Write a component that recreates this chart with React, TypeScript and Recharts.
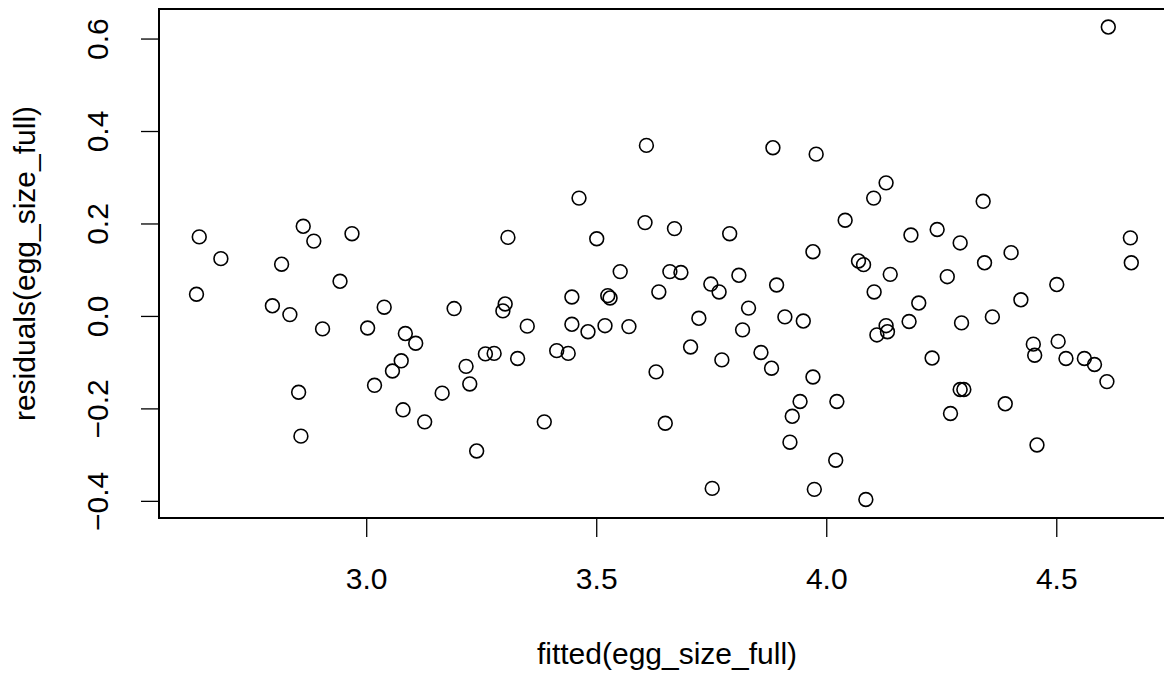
import React from 'react';
import { ScatterChart, Scatter, XAxis, YAxis, ReferenceArea } from 'recharts';

const fittedValues: number[] = [
  2.636, 2.683, 2.815, 2.862, 2.885, 2.968, 2.630, 2.942, 2.795, 2.833,
  2.904, 3.002, 3.038, 3.084, 3.1065, 3.075, 3.056, 3.017, 2.852, 3.079,
  2.857, 3.126, 3.190, 3.164, 3.216, 3.224, 3.239, 3.258, 3.277, 3.296,
  3.301, 3.307, 3.328, 3.349, 3.386, 3.413, 3.438, 3.446, 3.446, 3.4615,
  3.481, 3.500, 3.518, 3.524, 3.529, 3.551, 3.570, 3.605, 3.608, 3.629,
  3.635, 3.649, 3.659, 3.669, 3.683, 3.704, 3.722, 3.748, 3.751, 3.766,
  3.772, 3.789, 3.809, 3.817, 3.830, 3.857, 3.880, 3.883, 3.891, 3.909,
  3.920, 3.925, 3.942, 3.949, 3.970, 3.970, 3.973, 3.977, 4.0195, 4.022,
  4.040, 4.069, 4.080, 4.085, 4.102, 4.103, 4.109, 4.129, 4.129, 4.132,
  4.138, 4.179, 4.183, 4.200, 4.229, 4.240, 4.262, 4.269, 4.290, 4.290,
  4.293, 4.298, 4.340, 4.343, 4.360, 4.388, 4.4007, 4.422, 4.449, 4.452,
  4.457, 4.500, 4.503, 4.520, 4.560, 4.582, 4.609, 4.612, 4.660, 4.662,
];

const residualValues: number[] = [
  0.172, 0.125, 0.113, 0.195, 0.163, 0.179, 0.048, 0.076, 0.023, 0.004,
  -0.027, -0.025, 0.020, -0.037, -0.058, -0.096, -0.118, -0.149, -0.164, -0.202,
  -0.259, -0.228, 0.017, -0.166, -0.108, -0.146, -0.291, -0.081, -0.080, 0.012,
  0.027, 0.171, -0.091, -0.021, -0.228, -0.074, -0.080, 0.042, -0.017, 0.256,
  -0.033, 0.168, -0.020, 0.045, 0.040, 0.097, -0.022, 0.203, 0.370, -0.120,
  0.053, -0.231, 0.097, 0.190, 0.095, -0.066, -0.004, 0.070, -0.372, 0.053,
  -0.094, 0.179, 0.089, -0.029, 0.018, -0.078, -0.112, 0.365, 0.068, -0.001,
  -0.272, -0.216, -0.184, -0.010, -0.131, 0.140, -0.374, 0.351, -0.311, -0.184,
  0.208, 0.120, 0.112, -0.396, 0.256, 0.053, -0.040, 0.289, -0.020, -0.033,
  0.091, -0.011, 0.176, 0.029, -0.090, 0.188, 0.086, -0.210, 0.159, -0.158,
  -0.014, -0.158, 0.249, 0.116, -0.001, -0.189, 0.138, 0.036, -0.060, -0.084,
  -0.278, 0.069, -0.054, -0.091, -0.091, -0.104, -0.141, 0.626, 0.170, 0.116,
];

const xTicks: number[] = [3.0, 3.5, 4.0, 4.5];
const yTicks: number[] = [-0.4, -0.2, 0.0, 0.2, 0.4, 0.6];
const xDomain: [number, number] = [2.5485, 4.757];
const yDomain: [number, number] = [-0.436, 0.665];
const xTitle = 'fitted(egg_size_full)';
const yTitle = 'residuals(egg_size_full)';

const points = fittedValues.map((x, i) => ({ x, y: residualValues[i] }));

const FONT = '"Liberation Sans", Arial, Helvetica, sans-serif';
const FS = 30;

const fmt = (v: number) => (v < 0 ? '\u2212' + Math.abs(v).toFixed(1) : v.toFixed(1));

const XTick = (props: any) => {
  const { x, y, payload } = props;
  return (
    <text x={x} y={y + 50} textAnchor="middle" fontFamily={FONT} fontSize={FS} fill="#000">
      {fmt(payload.value)}
    </text>
  );
};

const YTick = (props: any) => {
  const { x, y, payload } = props;
  const bx = x - 31;
  return (
    <text
      x={bx}
      y={y}
      textAnchor="middle"
      transform={`rotate(-90, ${bx}, ${y})`}
      fontFamily={FONT}
      fontSize={FS}
      fill="#000"
    >
      {fmt(payload.value)}
    </text>
  );
};

const XLabel = (props: any) => {
  const vb = props.viewBox || {};
  const cx = vb.x + vb.width / 2;
  return (
    <text x={cx} y={664} textAnchor="middle" fontFamily={FONT} fontSize={FS} fill="#000">
      {xTitle}
    </text>
  );
};

const YLabel = (props: any) => {
  const vb = props.viewBox || {};
  const cy = vb.y + vb.height / 2;
  const bx = 35;
  return (
    <text
      x={bx}
      y={cy}
      textAnchor="middle"
      transform={`rotate(-90, ${bx}, ${cy})`}
      fontFamily={FONT}
      fontSize={FS}
      fill="#000"
    >
      {yTitle}
    </text>
  );
};

const Ring = (props: any) => {
  const { cx, cy } = props;
  return <circle cx={cx} cy={cy} r={6.9} fill="none" stroke="#000" strokeWidth={1.6} />;
};

export default function App() {
  return (
    <div
      style={{
        position: 'absolute',
        left: 0,
        top: 0,
        width: 1164,
        height: 679,
        overflow: 'hidden',
        background: '#fff',
      }}
    >
      <ScatterChart width={1180} height={679} margin={{ top: 9, right: 5, bottom: 0, left: 0 }}>
        <XAxis
          type="number"
          dataKey="x"
          domain={xDomain}
          ticks={xTicks}
          allowDataOverflow
          height={161}
          tickSize={19}
          tickLine={{ stroke: '#000', strokeWidth: 1.3 }}
          axisLine={false}
          tick={<XTick />}
          label={<XLabel />}
          interval={0}
        />
        <YAxis
          type="number"
          dataKey="y"
          domain={yDomain}
          ticks={yTicks}
          allowDataOverflow
          width={159}
          tickSize={18}
          tickLine={{ stroke: '#000', strokeWidth: 1.3 }}
          axisLine={false}
          tick={<YTick />}
          label={<YLabel />}
          interval={0}
        />
        <ReferenceArea
          x1={xDomain[0]}
          x2={xDomain[1]}
          y1={yDomain[0]}
          y2={yDomain[1]}
          fill="none"
          fillOpacity={0}
          stroke="#000"
          strokeWidth={2}
          ifOverflow="visible"
        />
        <Scatter data={points} shape={<Ring />} isAnimationActive={false} />
      </ScatterChart>
    </div>
  );
}
